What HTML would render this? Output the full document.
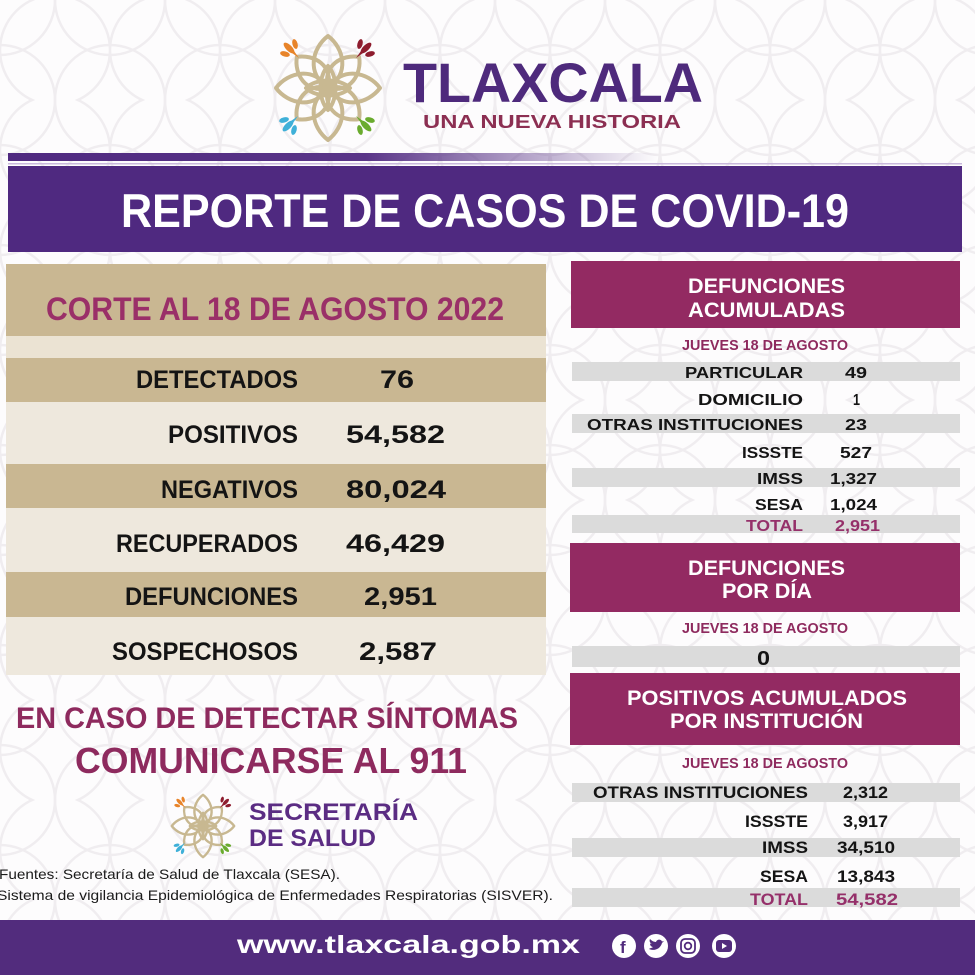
<!DOCTYPE html>
<html>
<head>
<meta charset="utf-8">
<style>
html,body{margin:0;padding:0;background:#fff;}
svg{display:block;}
text{font-family:"Liberation Sans","DejaVu Sans",sans-serif;}
</style>
</head>
<body>
<svg width="975" height="975" viewBox="0 0 975 975" xmlns="http://www.w3.org/2000/svg">
<defs>
  <pattern id="bgp" width="110" height="100" patternUnits="userSpaceOnUse">
    <g fill="none" stroke="#f0edf0" stroke-width="2.5">
      <circle cx="0" cy="0" r="55"/>
      <circle cx="110" cy="0" r="55"/>
      <circle cx="0" cy="100" r="55"/>
      <circle cx="110" cy="100" r="55"/>
      <circle cx="55" cy="50" r="55"/>
    </g>
  </pattern>
  <linearGradient id="gl" x1="0" y1="0" x2="1" y2="0">
    <stop offset="0" stop-color="#4f2980"/>
    <stop offset="0.55" stop-color="#5a3588"/>
    <stop offset="1" stop-color="#5a3588" stop-opacity="0"/>
  </linearGradient>
  <g id="petals" fill="none" stroke="#c8b891" stroke-width="4" stroke-linejoin="round">
    <path d="M0,0 C22,-14 16,-40 0,-52 C-16,-40 -22,-14 0,0Z"/>
    <path d="M0,0 C22,-14 16,-40 0,-52 C-16,-40 -22,-14 0,0Z" transform="rotate(90)"/>
    <path d="M0,0 C22,-14 16,-40 0,-52 C-16,-40 -22,-14 0,0Z" transform="rotate(180)"/>
    <path d="M0,0 C22,-14 16,-40 0,-52 C-16,-40 -22,-14 0,0Z" transform="rotate(270)"/>
    <path d="M0,0 C20,-12 14,-34 0,-44 C-14,-34 -20,-12 0,0Z" transform="rotate(45)"/>
    <path d="M0,0 C20,-12 14,-34 0,-44 C-14,-34 -20,-12 0,0Z" transform="rotate(135)"/>
    <path d="M0,0 C20,-12 14,-34 0,-44 C-14,-34 -20,-12 0,0Z" transform="rotate(225)"/>
    <path d="M0,0 C20,-12 14,-34 0,-44 C-14,-34 -20,-12 0,0Z" transform="rotate(315)"/>
    <path d="M0,-22 C10,-12 10,12 0,22 C-10,12 -10,-12 0,-22Z"/>
    <path d="M-22,0 C-12,10 12,10 22,0 C12,-10 -12,-10 -22,0Z"/>
  </g>
  <g id="acc">
    <ellipse cx="-4" cy="-4" rx="3" ry="7" transform="rotate(-45 -4 -4)"/>
    <ellipse cx="-8" cy="2" rx="2.6" ry="5" transform="rotate(-75 -8 2)"/>
    <ellipse cx="2" cy="-8" rx="2.6" ry="5" transform="rotate(-15 2 -8)"/>
    <path d="M6,6 L-1,1 L1,-1 Z"/>
  </g>
  <g id="logo">
    <use href="#petals"/>
    <use href="#acc" fill="#e8842a" transform="translate(-35,-36)"/>
    <use href="#acc" fill="#8e1c2e" transform="translate(34,-36) scale(-1,1)"/>
    <use href="#acc" fill="#3fb0d8" transform="translate(-36,34) scale(1,-1)"/>
    <use href="#acc" fill="#6aab2e" transform="translate(34,34) scale(-1,-1)"/>
  </g>
</defs>

<!-- background -->
<rect x="0" y="0" width="975" height="975" fill="#fdfcfd"/>
<rect x="0" y="0" width="975" height="975" fill="url(#bgp)"/>

<!-- header logo -->
<use href="#logo" transform="translate(328,88)"/>
<text x="403" y="102" font-size="56" font-weight="bold" fill="#4e2a7c" textLength="300" lengthAdjust="spacingAndGlyphs">TLAXCALA</text>
<text x="423" y="128" font-size="18" font-weight="bold" fill="#8c2f52" textLength="258" lengthAdjust="spacingAndGlyphs">UNA NUEVA HISTORIA</text>

<!-- gradient line + banner -->
<rect x="8" y="153" width="650" height="8" fill="url(#gl)"/>
<rect x="8" y="163" width="954" height="1.5" fill="#c9b8dc"/>
<rect x="8" y="166" width="954" height="86" fill="#4f2980"/>
<text x="121" y="227" font-size="47" font-weight="bold" fill="#ffffff" textLength="728" lengthAdjust="spacingAndGlyphs">REPORTE DE CASOS DE COVID-19</text>

<!-- left table -->
<rect x="6" y="264" width="540" height="72" fill="#c9b792"/>
<text x="46" y="320" font-size="32" font-weight="bold" fill="#9a2f68" textLength="458" lengthAdjust="spacingAndGlyphs">CORTE AL 18 DE AGOSTO 2022</text>
<rect x="6" y="336" width="540" height="22" fill="#ebe3d3"/>
<rect x="6" y="358" width="540" height="44" fill="#c9b792"/>
<rect x="6" y="402" width="540" height="62" fill="#eee8dd"/>
<rect x="6" y="464" width="540" height="44" fill="#c9b792"/>
<rect x="6" y="508" width="540" height="64" fill="#eee8dd"/>
<rect x="6" y="572" width="540" height="45" fill="#c9b792"/>
<rect x="6" y="617" width="540" height="58" fill="#eee8dd"/>

<g font-size="25" font-weight="bold" fill="#141414">
  <text x="136" y="388" textLength="162" lengthAdjust="spacingAndGlyphs">DETECTADOS</text>
  <text x="380" y="388" textLength="34" lengthAdjust="spacingAndGlyphs">76</text>
  <text x="168" y="443" textLength="130" lengthAdjust="spacingAndGlyphs">POSITIVOS</text>
  <text x="346" y="443" textLength="99" lengthAdjust="spacingAndGlyphs">54,582</text>
  <text x="161" y="498" textLength="137" lengthAdjust="spacingAndGlyphs">NEGATIVOS</text>
  <text x="346" y="498" textLength="100" lengthAdjust="spacingAndGlyphs">80,024</text>
  <text x="116" y="552" textLength="182" lengthAdjust="spacingAndGlyphs">RECUPERADOS</text>
  <text x="346" y="552" textLength="99" lengthAdjust="spacingAndGlyphs">46,429</text>
  <text x="125" y="605" textLength="173" lengthAdjust="spacingAndGlyphs">DEFUNCIONES</text>
  <text x="364" y="605" textLength="73" lengthAdjust="spacingAndGlyphs">2,951</text>
  <text x="112" y="660" textLength="186" lengthAdjust="spacingAndGlyphs">SOSPECHOSOS</text>
  <text x="359" y="660" textLength="78" lengthAdjust="spacingAndGlyphs">2,587</text>
</g>

<!-- right panel: defunciones acumuladas -->
<rect x="571" y="261" width="389" height="67" fill="#932a62"/>
<g font-size="21" font-weight="bold" fill="#ffffff">
  <text x="688" y="293" textLength="157" lengthAdjust="spacingAndGlyphs">DEFUNCIONES</text>
  <text x="688" y="317" textLength="157" lengthAdjust="spacingAndGlyphs">ACUMULADAS</text>
</g>
<text x="682" y="350" font-size="14.5" font-weight="bold" fill="#8e2a5e" textLength="166" lengthAdjust="spacingAndGlyphs">JUEVES 18 DE AGOSTO</text>
<rect x="572" y="362" width="388" height="19" fill="#dbdbdb"/>
<rect x="572" y="414" width="388" height="19" fill="#dbdbdb"/>
<rect x="572" y="468" width="388" height="19" fill="#dbdbdb"/>
<rect x="572" y="515" width="388" height="18" fill="#dbdbdb"/>
<g font-size="16" font-weight="bold" fill="#141414">
  <text x="685" y="378" textLength="118" lengthAdjust="spacingAndGlyphs">PARTICULAR</text>
  <text x="845" y="378" textLength="22" lengthAdjust="spacingAndGlyphs">49</text>
  <text x="698" y="405" textLength="105" lengthAdjust="spacingAndGlyphs">DOMICILIO</text>
  <text x="853" y="405" textLength="7" lengthAdjust="spacingAndGlyphs">1</text>
  <text x="587" y="430" textLength="216" lengthAdjust="spacingAndGlyphs">OTRAS INSTITUCIONES</text>
  <text x="845" y="430" textLength="22" lengthAdjust="spacingAndGlyphs">23</text>
  <text x="742" y="458" textLength="61" lengthAdjust="spacingAndGlyphs">ISSSTE</text>
  <text x="840" y="458" textLength="32" lengthAdjust="spacingAndGlyphs">527</text>
  <text x="757" y="484" textLength="46" lengthAdjust="spacingAndGlyphs">IMSS</text>
  <text x="830" y="484" textLength="47" lengthAdjust="spacingAndGlyphs">1,327</text>
  <text x="755" y="510" textLength="48" lengthAdjust="spacingAndGlyphs">SESA</text>
  <text x="830" y="510" textLength="47" lengthAdjust="spacingAndGlyphs">1,024</text>
  <text x="746" y="531" textLength="57" lengthAdjust="spacingAndGlyphs" fill="#95306a">TOTAL</text>
  <text x="835" y="531" textLength="45" lengthAdjust="spacingAndGlyphs" fill="#95306a">2,951</text>
</g>

<!-- defunciones por dia -->
<rect x="570" y="543" width="390" height="69" fill="#932a62"/>
<g font-size="21" font-weight="bold" fill="#ffffff">
  <text x="688" y="575" textLength="157" lengthAdjust="spacingAndGlyphs">DEFUNCIONES</text>
  <text x="722" y="598" textLength="90" lengthAdjust="spacingAndGlyphs">POR DÍA</text>
</g>
<text x="682" y="633" font-size="14.5" font-weight="bold" fill="#8e2a5e" textLength="166" lengthAdjust="spacingAndGlyphs">JUEVES 18 DE AGOSTO</text>
<rect x="572" y="646" width="388" height="21" fill="#dbdbdb"/>
<text x="757" y="665" font-size="20" font-weight="bold" fill="#141414" textLength="13" lengthAdjust="spacingAndGlyphs">0</text>

<!-- positivos por institucion -->
<rect x="570" y="673" width="390" height="72" fill="#932a62"/>
<g font-size="21" font-weight="bold" fill="#ffffff">
  <text x="627" y="705" textLength="280" lengthAdjust="spacingAndGlyphs">POSITIVOS ACUMULADOS</text>
  <text x="670" y="728" textLength="193" lengthAdjust="spacingAndGlyphs">POR INSTITUCIÓN</text>
</g>
<text x="682" y="768" font-size="14.5" font-weight="bold" fill="#8e2a5e" textLength="166" lengthAdjust="spacingAndGlyphs">JUEVES 18 DE AGOSTO</text>
<rect x="572" y="783" width="388" height="19" fill="#dbdbdb"/>
<rect x="572" y="838" width="388" height="19" fill="#dbdbdb"/>
<rect x="572" y="888" width="388" height="19" fill="#dbdbdb"/>
<g font-size="17" font-weight="bold" fill="#141414">
  <text x="593" y="798" textLength="215" lengthAdjust="spacingAndGlyphs">OTRAS INSTITUCIONES</text>
  <text x="843" y="798" textLength="45" lengthAdjust="spacingAndGlyphs">2,312</text>
  <text x="745" y="827" textLength="63" lengthAdjust="spacingAndGlyphs">ISSSTE</text>
  <text x="843" y="827" textLength="45" lengthAdjust="spacingAndGlyphs">3,917</text>
  <text x="762" y="853" textLength="46" lengthAdjust="spacingAndGlyphs">IMSS</text>
  <text x="837" y="853" textLength="58" lengthAdjust="spacingAndGlyphs">34,510</text>
  <text x="760" y="882" textLength="48" lengthAdjust="spacingAndGlyphs">SESA</text>
  <text x="837" y="882" textLength="58" lengthAdjust="spacingAndGlyphs">13,843</text>
  <text x="750" y="905" textLength="58" lengthAdjust="spacingAndGlyphs" fill="#95306a">TOTAL</text>
  <text x="836" y="905" textLength="62" lengthAdjust="spacingAndGlyphs" fill="#95306a">54,582</text>
</g>

<!-- bottom left -->
<text x="16" y="728" font-size="30" font-weight="bold" fill="#8e2a5e" textLength="502" lengthAdjust="spacingAndGlyphs">EN CASO DE DETECTAR SÍNTOMAS</text>
<text x="75" y="773" font-size="36" font-weight="bold" fill="#8e2a5e" textLength="392" lengthAdjust="spacingAndGlyphs">COMUNICARSE AL 911</text>
<use href="#logo" transform="translate(203,826) scale(0.6)"/>
<text x="249" y="820" font-size="24" font-weight="bold" fill="#5b2c83" textLength="169" lengthAdjust="spacingAndGlyphs">SECRETARÍA</text>
<text x="249" y="846" font-size="24" font-weight="bold" fill="#5b2c83" textLength="127" lengthAdjust="spacingAndGlyphs">DE SALUD</text>
<text x="-1" y="879" font-size="14" fill="#1a1a1a" textLength="341" lengthAdjust="spacingAndGlyphs">Fuentes:  Secretaría de Salud de Tlaxcala (SESA).</text>
<text x="-3" y="900" font-size="14" fill="#1a1a1a" textLength="556" lengthAdjust="spacingAndGlyphs">Sistema de vigilancia Epidemiológica de Enfermedades Respiratorias (SISVER).</text>

<!-- footer -->
<rect x="0" y="920" width="975" height="55" fill="#522c7d"/>
<text x="237" y="953" font-size="25" font-weight="bold" fill="#ffffff" textLength="343" lengthAdjust="spacingAndGlyphs">www.tlaxcala.gob.mx</text>
<g>
  <circle cx="624" cy="946" r="12" fill="#ffffff"/>
  <text x="620" y="953" font-size="17" font-weight="bold" fill="#522c7d">f</text>
  <circle cx="656" cy="946" r="12" fill="#ffffff"/>
  <path d="M649,949 C653,951 660,950 662,943 L664,941 L662,941.5 C661,939 657,939 656,942 C653,942 651,940 650,939 C649,941 650,943 652,944 L650,943.5 C650,946 652,947 653,947 C652,948 650,948 649,949Z" fill="#522c7d"/>
  <circle cx="688" cy="946" r="12" fill="#ffffff"/>
  <rect x="681" y="939" width="14" height="14" rx="4" fill="none" stroke="#522c7d" stroke-width="1.8"/>
  <circle cx="688" cy="946" r="3.3" fill="none" stroke="#522c7d" stroke-width="1.8"/>
  <circle cx="724" cy="946" r="12" fill="#ffffff"/>
  <rect x="716" y="940" width="16" height="12" rx="3" fill="#522c7d"/>
  <path d="M722,943 L727,946 L722,949Z" fill="#ffffff"/>
</g>
</svg>
</body>
</html>
